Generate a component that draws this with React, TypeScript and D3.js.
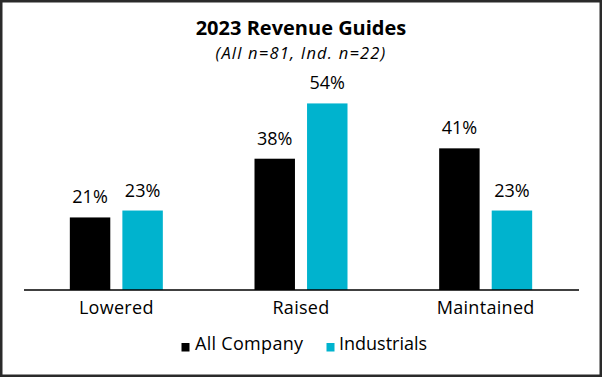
import React from "react";
import * as d3 from "d3";

const categories = ["Lowered", "Raised", "Maintained"];
const seriesNames = ["All Company", "Industrials"];
const allCompany = [21, 38, 41];
const industrials = [23, 54, 23];
const seriesColors = ["#000000", "#00B3CE"];
const title = "2023 Revenue Guides";
const subtitle = "(All n=81, Ind. n=22)";

const W = 602;
const H = 377;
const FONT = "'Open Sans', sans-serif";

export default function App() {
  const x = d3.scaleBand<string>().domain(categories).range([24, 578]);
  const x1 = d3.scaleBand<string>().domain(seriesNames).range([-46.5, 46.5]).paddingInner(0.23);
  const y = d3.scaleLinear().domain([0, 60]).range([290, 290 - 207.3]);
  const values = [allCompany, industrials];

  return (
    <div style={{ position: "fixed", left: 0, top: 0 }}>
      <svg width={W} height={H} style={{ display: "block", background: "#fff" }}>
        <rect x={1.25} y={1.25} width={W - 2.5} height={H - 2.5} fill="#fff" stroke="#2a2a2a" strokeWidth={2.5} />
        <text x={301} y={35} textAnchor="middle" fontFamily={FONT} fontWeight={700} fontSize={20} fill="#000">{title}</text>
        <text x={301} y={59} textAnchor="middle" fontFamily={FONT} fontStyle="italic" fontSize={16.5} letterSpacing={1.2} fill="#000">{subtitle}</text>
        {categories.map((c, i) => {
          const cx = (x(c) as number) + x.bandwidth() / 2;
          return (
            <g key={c}>
              {seriesNames.map((s, j) => {
                const v = values[j][i];
                const bx = cx + (x1(s) as number);
                return (
                  <g key={s}>
                    <rect x={bx} y={y(v)} width={x1.bandwidth()} height={y(0) - y(v)} fill={seriesColors[j]} />
                    <text x={bx + x1.bandwidth() / 2} y={y(v) - 14} textAnchor="middle" fontFamily={FONT} fontSize={18} fill="#000">{v}%</text>
                  </g>
                );
              })}
              <text x={cx} y={314} textAnchor="middle" fontFamily={FONT} fontSize={18} letterSpacing={0.3} fill="#000">{c}</text>
            </g>
          );
        })}
        <line x1={24} x2={579} y1={290} y2={290} stroke="#000" strokeWidth={1.3} />
        <g>
          <rect x={181.5} y={343} width={8} height={8.5} fill={seriesColors[0]} />
          <text x={195} y={350} fontFamily={FONT} fontSize={18} letterSpacing={0.3} fill="#000">{seriesNames[0]}</text>
          <rect x={326.5} y={343} width={8} height={8.5} fill={seriesColors[1]} />
          <text x={339} y={350} fontFamily={FONT} fontSize={18} fill="#000">{seriesNames[1]}</text>
        </g>
      </svg>
    </div>
  );
}
